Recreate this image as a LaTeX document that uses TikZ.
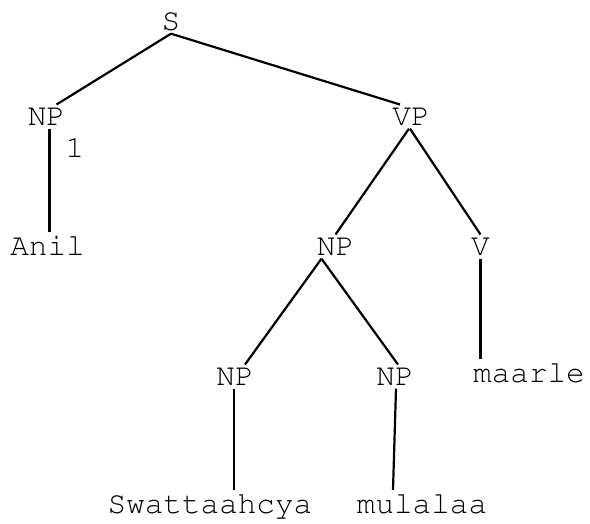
\documentclass[tikz,border=0pt]{standalone}
\usepackage[T1]{fontenc}
\usepackage{courier}

\tikzset{
    lbl/.style={anchor=base, inner sep=3pt, font=\ttfamily\fontsize{31}{31}\selectfont},
    branch/.style={line width=2.2pt}
}

\begin{document}
\begin{tikzpicture}[x=1pt, y=-1pt]
    \useasboundingbox (0,0) rectangle (590,523);

    \node[lbl] (s) at (171,30) {S};
    \node[lbl] (np1) at (46.5,125) {NP};
    \node[lbl] (sub) at (75,157) {1};
    \node[lbl] (anil) at (47.5,255) {Anil};
    \node[lbl] (vp) at (411,125) {VP};
    \node[lbl] (np2) at (335.5,255) {NP};
    \node[lbl] (v) at (480.5,255) {V};
    \node[lbl] (maarle) at (529,382) {maarle};
    \node[lbl] (np3) at (235,385) {NP};
    \node[lbl] (np4) at (395,385) {NP};
    \node[lbl] (swat) at (210,513) {Swattaahcya};
    \node[lbl] (mula) at (422,513) {mulalaa};

    \draw[branch] (s.south) -- ([xshift=10pt]np1.north);
    \draw[branch] (s.south) -- ([xshift=-11pt]vp.north);
    \draw[branch] ([xshift=3pt]np1.south) -- ([xshift=3pt]np1.south |- anil.north);
    \draw[branch] ([xshift=-2pt]vp.south) -- (np2.north);
    \draw[branch] ([xshift=-1pt]vp.south) -- (v.north);
    \draw[branch] ([xshift=-14pt]np2.south) -- ([xshift=10pt]np3.north);
    \draw[branch] ([xshift=-14pt]np2.south) -- ([xshift=3pt]np4.north);
    \draw[branch] ([xshift=-1pt]np3.south) -- ([xshift=-1pt]np3.south |- swat.north);
    \draw[branch] ([xshift=1pt]np4.south) -- ([xshift=-2pt]np4.south |- mula.north);
    \draw[branch] (v.south) -- (v.south |- maarle.north);
\end{tikzpicture}
\end{document}
